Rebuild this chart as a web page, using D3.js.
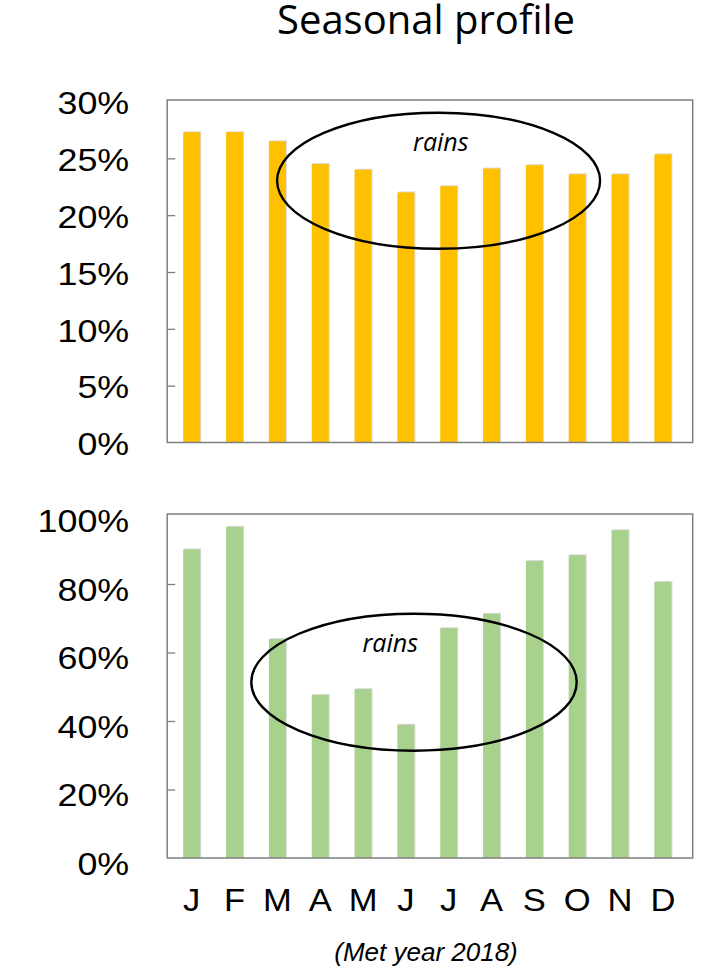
<!DOCTYPE html>
<html>
<head>
<meta charset="utf-8">
<script src="https://cdn.jsdelivr.net/npm/d3@7"></script>
<style>
  html, body { margin: 0; padding: 0; background: #fff; }
  svg { display: block; }
</style>
</head>
<body>
<svg id="chart" width="705" height="971"></svg>
<script>
// Monthly categories (meteorological year)
const months = ["J","F","M","A","M","J","J","A","S","O","N","D"];
const monthKeys = months.map((m, i) => i);

// Upper panel: monthly share (fraction)
const upperValues = [0.273, 0.273, 0.265, 0.245, 0.240, 0.220, 0.2255, 0.241, 0.244, 0.236, 0.236, 0.2535];
const upperTicks = [0, 0.05, 0.10, 0.15, 0.20, 0.25, 0.30];

// Lower panel: monthly share (fraction)
const lowerValues = [0.901, 0.967, 0.639, 0.476, 0.493, 0.389, 0.671, 0.713, 0.867, 0.884, 0.957, 0.806];
const lowerTicks = [0, 0.2, 0.4, 0.6, 0.8, 1.0];

const titleText = "Seasonal profile";
const noteText = "(Met year 2018)";
const rainsText = "rains";

const svg = d3.select("#chart");

const frameLeft = 167.2, frameRight = 692.7;
const x = d3.scaleBand().domain(monthKeys).range([170.3, 684.3]).paddingInner(0).paddingOuter(0);
const barW = 17;

const gray = "#7f7f7f";
const labelScaleX = 1.12;

function panel(cfg) {
  const y = d3.scaleLinear().domain([0, cfg.max]).range([cfg.bottom, cfg.top]);
  const g = svg.append("g");

  // bars with a faint edge shadow
  g.selectAll("rect.shadow").data(cfg.values).join("rect")
    .attr("class", "shadow")
    .attr("x", (d, i) => x(i) + x.bandwidth() / 2 - barW / 2 + 1)
    .attr("y", d => y(d) - 1)
    .attr("width", barW)
    .attr("height", d => y(0) - y(d) + 1)
    .attr("fill", "#dadada");
  g.selectAll("rect.bar").data(cfg.values).join("rect")
    .attr("class", "bar")
    .attr("x", (d, i) => x(i) + x.bandwidth() / 2 - barW / 2)
    .attr("y", d => y(d))
    .attr("width", barW)
    .attr("height", d => y(0) - y(d))
    .attr("fill", cfg.color);

  // plot frame
  g.append("rect")
    .attr("x", frameLeft).attr("y", cfg.top - 1.5)
    .attr("width", frameRight - frameLeft).attr("height", cfg.bottom - cfg.top + 1.5)
    .attr("fill", "none").attr("stroke", gray).attr("stroke-width", 1.5);

  // inward tick marks
  const inner = g.append("g").attr("transform", `translate(${frameLeft},0)`)
    .call(d3.axisRight(y).tickValues(cfg.ticks.slice(1, -1)).tickSize(8).tickFormat(""));
  inner.select(".domain").remove();
  inner.selectAll("line").attr("stroke", gray).attr("stroke-width", 1.3);

  // tick labels
  const pad = 38;
  const lab = g.append("g").attr("transform", `translate(${frameLeft},0)`)
    .call(d3.axisLeft(y).tickValues(cfg.ticks).tickSize(0).tickPadding(pad).tickFormat(d3.format(".0%")));
  lab.select(".domain").remove();
  lab.selectAll("text")
    .attr("font-family", "'Liberation Sans', Arial, sans-serif")
    .attr("font-size", 32)
    .attr("fill", "#000")
    .attr("x", -pad / labelScaleX)
    .attr("dy", cfg.labelDy)
    .attr("transform", `scale(${labelScaleX},1)`);

  // highlight ellipse and annotation
  g.append("ellipse")
    .attr("cx", cfg.ell.cx).attr("cy", cfg.ell.cy)
    .attr("rx", cfg.ell.rx).attr("ry", cfg.ell.ry)
    .attr("fill", "none").attr("stroke", "#000").attr("stroke-width", 2.4);
  g.append("text")
    .attr("x", cfg.rains.x).attr("y", cfg.rains.y)
    .attr("text-anchor", "middle")
    .attr("font-family", "'Open Sans', sans-serif")
    .attr("font-style", "italic")
    .attr("font-size", 25)
    .attr("fill", "#000")
    .text(rainsText);
  return y;
}

panel({
  values: upperValues, ticks: upperTicks, max: 0.30,
  top: 101.5, bottom: 442.5, color: "#FFC000", labelDy: "0.38em",
  ell: { cx: 438.6, cy: 180.7, rx: 161.5, ry: 68 },
  rains: { x: 440.8, y: 151 }
});

panel({
  values: lowerValues, ticks: lowerTicks, max: 1.0,
  top: 515.5, bottom: 858, color: "#A9D18E", labelDy: "0.5em",
  ell: { cx: 414, cy: 682.2, rx: 162.7, ry: 68.5 },
  rains: { x: 390.2, y: 651.7 }
});

// month labels under the lower panel
const xa = svg.append("g").attr("transform", "translate(0,858)")
  .call(d3.axisBottom(x).tickSize(0).tickPadding(0).tickFormat(i => months[i]));
xa.select(".domain").remove();
xa.selectAll("text")
  .attr("font-family", "'Liberation Sans', Arial, sans-serif")
  .attr("font-size", 32)
  .attr("fill", "#000")
  .attr("y", 53).attr("dy", 0)
  .attr("transform", "scale(1.08,1)");

// title
svg.append("text")
  .attr("x", 426).attr("y", 34)
  .attr("text-anchor", "middle")
  .attr("font-family", "'Open Sans', sans-serif")
  .attr("font-size", 40)
  .attr("fill", "#000")
  .text(titleText);

// footnote
svg.append("text")
  .attr("x", 426).attr("y", 961)
  .attr("text-anchor", "middle")
  .attr("font-family", "'Liberation Sans', Arial, sans-serif")
  .attr("font-style", "italic")
  .attr("font-size", 26)
  .attr("fill", "#000")
  .text(noteText);
</script>
</body>
</html>
